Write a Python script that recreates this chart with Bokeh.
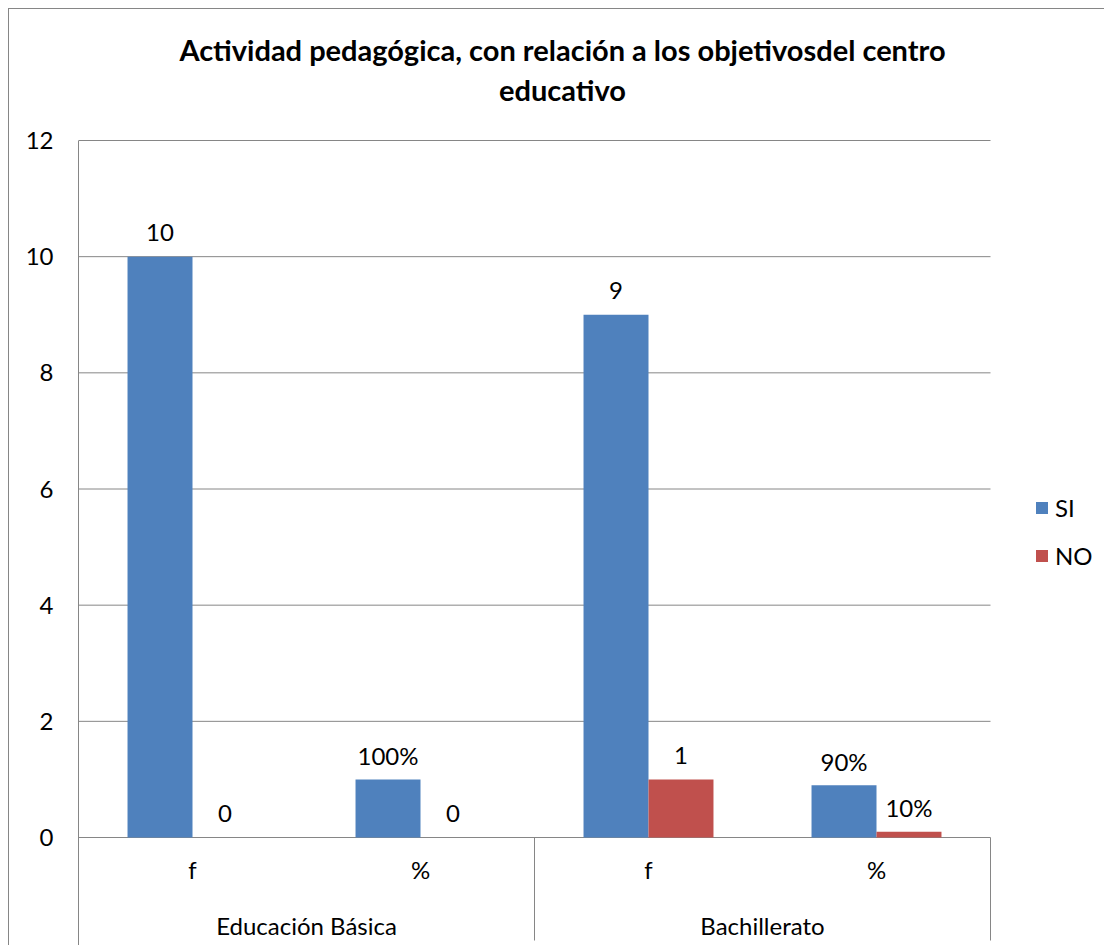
from bokeh.plotting import figure
from bokeh.models import Range1d, FixedTicker, LinearAxis, ColumnDataSource, Legend, LegendItem, Label
from bokeh.transform import dodge
from bokeh.core.properties import value
from bokeh.embed import file_html
from bokeh.resources import INLINE

title_text = "Actividad pedagógica, con relación a los objetivosdel centro\neducativo"
groups = ["Educación Básica", "Bachillerato"]
subcats = ["f", "%", "f", "%"]
series = ["SI", "NO"]
si_values = [10, 1, 9, 0.9]
no_values = [0, 0, 1, 0.1]
si_labels = ["10", "100%", "9", "90%"]
no_labels = ["0", "0", "1", "10%"]
y_ticks = [0, 2, 4, 6, 8, 10, 12]
colors = ["#4F81BD", "#C0504D"]

FONT = "Lato"
GRAY = "#868686"
FS = "24px"

# layout (pixels): plot area 912 x 697, chart area extends right to hold the legend
PX_X = 912 / len(subcats)          # pixels per category unit
PX_Y = 697 / max(y_ticks)          # pixels per value unit
X_END = (1105 - 78) / PX_X
Y_TOP = (837 - 9) / PX_Y
Y_BOT = -(946 - 837) / PX_Y

per_group = len(subcats) // len(groups)
xc = [i + 0.5 for i in range(len(subcats))]
gc = [float(g * per_group) + per_group / 2 for g in range(len(groups))]
seps = [float(g * per_group) for g in range(len(groups) + 1)]

src = ColumnDataSource(dict(x=xc, si=si_values, no=no_values, si_lab=si_labels, no_lab=no_labels))

p = figure(width=1096, height=937, x_range=Range1d(0, X_END), y_range=Range1d(Y_BOT, Y_TOP),
           output_backend="svg", toolbar_location=None, title=None,
           min_border_left=69, min_border_right=0, min_border_top=0, min_border_bottom=0,
           x_axis_location=None)
p.outline_line_color = None
p.styles = {"margin-left": "8px", "margin-top": "8px",
            "border-left": "1px solid #868686", "border-top": "1px solid #868686"}

# y axis
p.yaxis.ticker = FixedTicker(ticks=y_ticks)
p.yaxis.bounds = (Y_BOT, max(y_ticks))
p.yaxis.axis_line_color = GRAY
p.yaxis.major_tick_line_color = None
p.yaxis.minor_tick_line_color = None
p.yaxis.major_tick_out = 0
p.yaxis.major_label_standoff = 25
p.yaxis.major_label_text_font = FONT
p.yaxis.major_label_text_font_size = FS
p.yaxis.major_label_text_color = "black"

p.xgrid.visible = False
p.ygrid.visible = False
# horizontal gridlines limited to the plot area
p.segment(x0=0, x1=len(subcats), y0=y_ticks, y1=y_ticks, line_color=GRAY, line_width=1)

w = 0.285
r_si = p.vbar(x=dodge("x", -w / 2, range=p.x_range), top="si", width=w, source=src,
              fill_color=colors[0], line_color=None)
r_no = p.vbar(x=dodge("x", w / 2, range=p.x_range), top="no", width=w, source=src,
              fill_color=colors[1], line_color=None)

for off, col, lab in [(-w / 2, "si", "si_lab"), (w / 2, "no", "no_lab")]:
    p.text(x=dodge("x", off, range=p.x_range), y=col, text=lab, source=src,
           text_align="center", text_baseline="alphabetic", y_offset=-24,
           text_font=value(FONT), text_font_size=FS, text_color="black")

# category axes (sub labels, group labels, separators)
ax_sub = LinearAxis(fixed_location=0, ticker=FixedTicker(ticks=xc),
                    major_label_overrides={x: s for x, s in zip(xc, subcats)},
                    axis_line_color=None, major_tick_line_color=None, minor_tick_line_color=None,
                    major_tick_out=0, major_tick_in=0, major_label_standoff=17,
                    major_label_text_font=FONT, major_label_text_font_size=FS,
                    major_label_text_color="black")
ax_grp = LinearAxis(fixed_location=0, ticker=FixedTicker(ticks=gc),
                    major_label_overrides={x: s for x, s in zip(gc, groups)},
                    axis_line_color=None, major_tick_line_color=None, minor_tick_line_color=None,
                    major_tick_out=0, major_tick_in=0, major_label_standoff=73,
                    major_label_text_font=FONT, major_label_text_font_size=FS,
                    major_label_text_color="black")
ax_sep = LinearAxis(fixed_location=0, ticker=FixedTicker(ticks=seps),
                    axis_line_color=None, major_tick_line_color=GRAY, minor_tick_line_color=None,
                    major_tick_out=103, major_tick_in=0, major_label_text_color=None)
for ax in (ax_sep, ax_sub, ax_grp):
    p.add_layout(ax, "below")

legend = Legend(items=[LegendItem(label=s, renderers=[r]) for s, r in zip(series, [r_si, r_no])],
                location=(956, 376), orientation="vertical", glyph_width=15, glyph_height=15,
                label_standoff=6, spacing=19, padding=0, margin=0, border_line_color=None,
                background_fill_alpha=0, label_text_font=FONT, label_text_font_size=FS,
                label_text_color="black")
p.add_layout(legend)

# two-line chart title
line1, line2 = title_text.split("\n")
TX = (562 - 78) / PX_X
for txt, base in [(line1, 49), (line2, 89)]:
    p.add_layout(Label(x=TX, y=(837 - base) / PX_Y, text=txt, text_align="center",
                       text_baseline="alphabetic", text_font=FONT, text_font_size="29px",
                       text_font_style="bold", text_color="black"))

open("out.html", "w").write(file_html(p, INLINE))
